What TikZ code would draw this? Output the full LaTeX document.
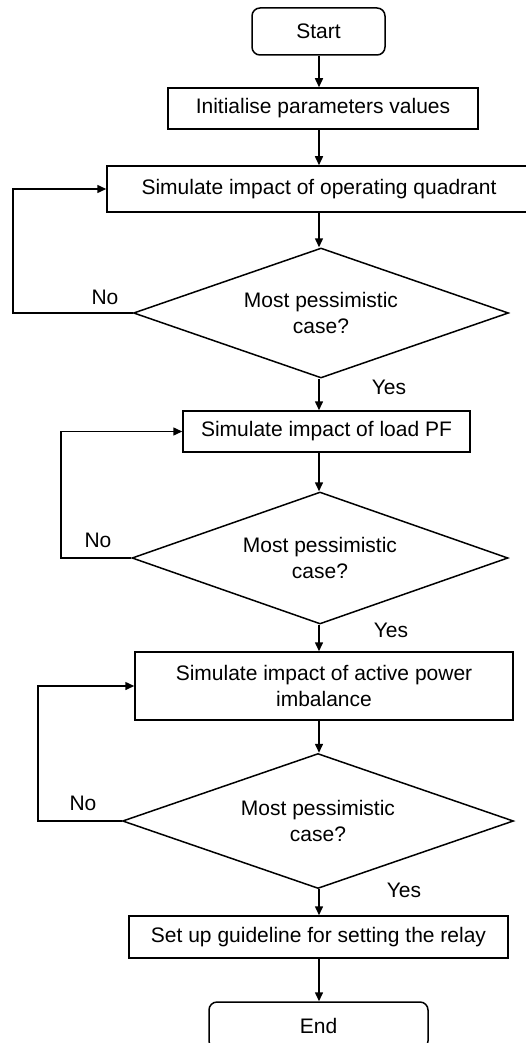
\documentclass[tikz,border=0pt]{standalone}
\usepackage{fontspec}
\setmainfont{Liberation Sans}
\usetikzlibrary{arrows.meta, shapes.geometric, positioning}
\tikzset{
    procBox/.style args={#1 #2}{draw, rectangle, line width=1.5pt,
        minimum width=#1, minimum height=#2, inner sep=0pt, align=center},
    termBox/.style args={#1 #2}{procBox={#1 #2}, rounded corners=8pt},
    decide/.style args={#1 #2}{draw, diamond, aspect=2.9, line width=1.5pt,
        minimum width=#1, minimum height=#2, inner sep=0pt, align=center},
    flowArr/.style={line width=1.5pt, -{Triangle[length=9pt, width=8pt]}},
    tag/.style={inner sep=0pt}
}
\begin{document}
\begin{tikzpicture}[x=1pt, y=-1pt, font=\fontsize{21}{26}\selectfont]
    \useasboundingbox (0,0) rectangle (526,1043);
    \coordinate (axis) at (319,0);
    % main column
    \node[termBox={133pt 47pt}] (start) at (318.5,31.5) {Start};
    \node[procBox={310pt 41pt}] (init) at (323,108.5) {Initialise parameters values};
    \node[procBox={424pt 46pt}] (quad) at (319,189) {Simulate impact of operating quadrant};
    \node[decide={375pt 130pt}] (dec1) at (321,313) {Most pessimistic\\case?};
    \node[procBox={287pt 41pt}] (pf) at (326.5,431.5) {Simulate impact of load PF};
    \node[decide={376pt 132pt}] (dec2) at (320,558) {Most pessimistic\\case?};
    \node[procBox={378pt 68pt}] (act) at (324,686) {Simulate impact of active power\\imbalance};
    \node[decide={391pt 135pt}] (dec3) at (318,821) {Most pessimistic\\case?};
    \node[procBox={379pt 42pt}] (setup) at (318.5,937) {Set up guideline for setting the relay};
    \node[termBox={219pt 47pt}] (end) at (318.5,1025.5) {End};
    % downward flow
    \draw[flowArr] (axis |- start.south) -- (axis |- init.north);
    \draw[flowArr] (axis |- init.south) -- (axis |- quad.north);
    \draw[flowArr] (axis |- quad.south) -- (axis |- dec1.north);
    \draw[flowArr] (axis |- dec1.south) -- (axis |- pf.north);
    \draw[flowArr] (axis |- pf.south) -- (axis |- dec2.north);
    \draw[flowArr] (axis |- dec2.south) -- (axis |- act.north);
    \draw[flowArr] (axis |- act.south) -- (axis |- dec3.north);
    \draw[flowArr] (axis |- dec3.south) -- (axis |- setup.north);
    \draw[flowArr] (axis |- setup.south) -- (axis |- end.north);
    % loops back
    \coordinate (back1) at (13,313);
    \coordinate (back2) at (61,558);
    \coordinate (back3) at (38,821);
    \draw[flowArr] (dec1.west) -- (back1) |- (quad.west);
    \draw[flowArr] (dec2.west) -- (back2) |- (pf.west);
    \draw[flowArr] (dec3.west) -- (back3) |- (act.west);
    % labels
    \node[tag] (no1) at (105,297) {No};
    \node[tag] (no2) at (98,540) {No};
    \node[tag] (no3) at (83,803) {No};
    \node[tag] (yes1) at (389,387) {Yes};
    \node[tag] (yes2) at (391,630) {Yes};
    \node[tag] (yes3) at (404,890) {Yes};
\end{tikzpicture}
\end{document}
